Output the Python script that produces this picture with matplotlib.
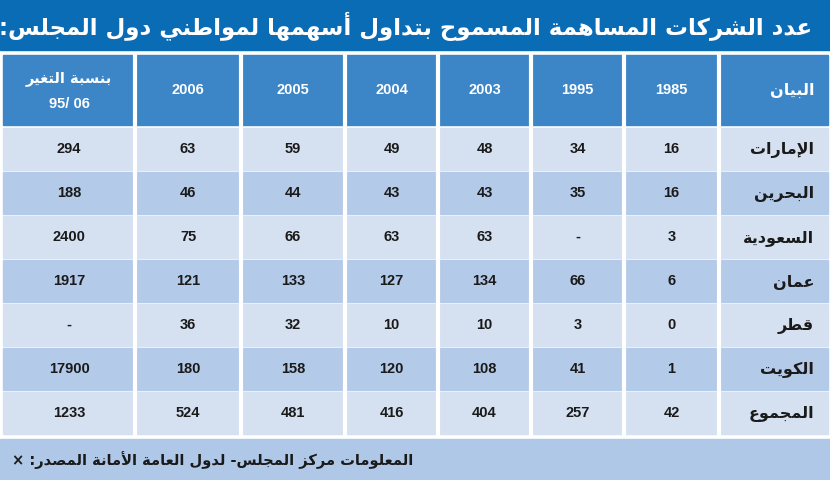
import matplotlib
matplotlib.use("Agg")
import matplotlib.pyplot as plt
from matplotlib.patches import Rectangle

title = "عدد الشركات المساهمة المسموح بتداول أسهمها لمواطني دول المجلس:"
header_label = "البيان"
years = ["1985", "1995", "2003", "2004", "2005", "2006"]
change_header = ["بنسبة التغير", "95/ 06"]
countries = ["الإمارات", "البحرين", "السعودية", "عمان", "قطر", "الكويت", "المجموع"]
v1985 = ["16", "16", "3", "6", "0", "1", "42"]
v1995 = ["34", "35", "-", "66", "3", "41", "257"]
v2003 = ["48", "43", "63", "134", "10", "108", "404"]
v2004 = ["49", "43", "63", "127", "10", "120", "416"]
v2005 = ["59", "44", "66", "133", "32", "158", "481"]
v2006 = ["63", "46", "75", "121", "36", "180", "524"]
vchange = ["294", "188", "2400", "1917", "-", "17900", "1233"]
footer_words = ["×", "المصدر:", "الأمانة", "العامة", "لدول", "المجلس-", "مركز", "المعلومات"]

# --- minimal Arabic shaping ---
order = "ءآأؤإئابةتثجحخدذرزسشصضطظعغفقكلمنهوىي"
bases = {}
code = 0xFE80
for ch in order:
    if ch == "ء":
        n = 1
    elif ch in "آأؤإادذرزةوى":
        n = 2
    else:
        n = 4
    bases[ch] = (code, n)
    code += n
LAMALEF = {"آ": 0xFEF5, "أ": 0xFEF7, "إ": 0xFEF9, "ا": 0xFEFB}

def shape(s):
    chars = []
    i = 0
    while i < len(s):
        c = s[i]
        if c == "ل" and i + 1 < len(s) and s[i + 1] in LAMALEF:
            chars.append(("LA", s[i + 1]))
            i += 2
        else:
            chars.append(("C", c))
            i += 1
    def nforms(t):
        if t[0] == "LA":
            return 2
        return bases[t[1]][1] if t[1] in bases else 0
    def joins_prev(t):
        if t[0] == "LA":
            return True
        return t[1] in bases and bases[t[1]][1] >= 2
    out = []
    for k, t in enumerate(chars):
        prev = chars[k - 1] if k > 0 else None
        nxt = chars[k + 1] if k + 1 < len(chars) else None
        cp = prev is not None and nforms(prev) == 4 and joins_prev(t)
        cn = nxt is not None and nforms(t) == 4 and joins_prev(nxt)
        if t[0] == "LA":
            out.append(chr(LAMALEF[t[1]] + (1 if cp else 0)))
            continue
        c = t[1]
        if c not in bases:
            out.append(c)
            continue
        b, n = bases[c]
        if n == 1:
            out.append(chr(b))
        elif n == 2:
            out.append(chr(b + (1 if cp else 0)))
        else:
            if cp and cn:
                out.append(chr(b + 3))
            elif cp:
                out.append(chr(b + 1))
            elif cn:
                out.append(chr(b + 2))
            else:
                out.append(chr(b))
    return "".join(reversed(out))

def ar(s):
    return " ".join(shape(w) for w in reversed(s.split(" ")))

fig = plt.figure(figsize=(8.3, 4.8), dpi=100)
ax = fig.add_axes([0, 0, 1, 1])
ax.set_xlim(0, 830)
ax.set_ylim(480, 0)
ax.axis("off")
fig.patch.set_facecolor("white")

AF = "DejaVu Sans"
NF = "Liberation Sans"

ax.add_patch(Rectangle((0, 0), 830, 50, color="#0b6cb6"))
ax.text(812, 26, ar(title), ha="right", va="center", color="white",
        fontsize=16.5, fontweight="bold", family=AF)

cols = [3, 135, 241, 345, 438, 531, 624, 719, 828]
hdr_top, hdr_bot = 55, 125
ax.add_patch(Rectangle((cols[0], hdr_top), cols[-1] - cols[0], hdr_bot - hdr_top, color="#3c86c8"))
row_edges = [128, 172, 216, 260, 304, 348, 392, 436]
row_colors = ["#d5e1f1", "#b4cae9"]
for r in range(len(countries)):
    ax.add_patch(Rectangle((cols[0], row_edges[r]), cols[-1] - cols[0],
                           row_edges[r + 1] - row_edges[r] - 2, color=row_colors[r % 2]))
ax.add_patch(Rectangle((0, 439), 830, 41, color="#b0c8e8"))
for x in cols[1:-1]:
    ax.plot([x, x], [hdr_top, 436], color="white", lw=3)

hy = (hdr_top + hdr_bot) / 2
ax.text(cols[-1] - 14, hy, shape(header_label), ha="right", va="center",
        color="white", fontsize=11.5, fontweight="bold", family=AF)
for j, y in enumerate(years):
    xc = (cols[7 - j - 1] + cols[7 - j]) / 2
    ax.text(xc, hy, y, ha="center", va="center", color="white",
            fontsize=10.5, fontweight="bold", family=NF)
xc = (cols[0] + cols[1]) / 2
ax.text(xc, hy - 12, ar(change_header[0]), ha="center", va="center",
        color="white", fontsize=10.5, fontweight="bold", family=AF)
ax.text(xc, hy + 14, change_header[1], ha="center", va="center",
        color="white", fontsize=10.5, fontweight="bold", family=NF)

series = [v1985, v1995, v2003, v2004, v2005, v2006]
for r, name in enumerate(countries):
    yc = (row_edges[r] + row_edges[r + 1] - 2) / 2
    ax.text(cols[-1] - 14, yc + 1, shape(name), ha="right", va="center",
            color="#1a1a1a", fontsize=11.5, fontweight="bold", family=AF)
    for j, s in enumerate(series):
        xc = (cols[7 - j - 1] + cols[7 - j]) / 2
        ax.text(xc, yc, s[r], ha="center", va="center", color="#1a1a1a",
                fontsize=10.5, fontweight="bold", family=NF)
    ax.text((cols[0] + cols[1]) / 2, yc, vchange[r], ha="center", va="center",
            color="#1a1a1a", fontsize=10.5, fontweight="bold", family=NF)

ftxt = " ".join(shape(w) if w != "×" else w for w in footer_words)
ax.text(12, 460, ftxt, ha="left", va="center", color="#1a1a1a",
        fontsize=10.5, fontweight="bold", family=AF)

fig.savefig("out.png", dpi=100)
